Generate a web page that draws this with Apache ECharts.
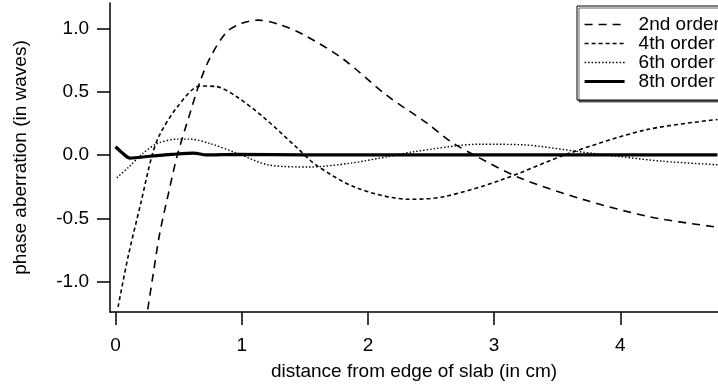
<!DOCTYPE html>
<html>
<head>
<meta charset="utf-8">
<script src="https://cdn.jsdelivr.net/npm/echarts@6/dist/echarts.min.js"></script>
<style>
html, body { margin: 0; padding: 0; background: #fff; }
#chart { width: 718px; height: 387px; }
</style>
</head>
<body>
<div id="chart"></div>
<script>
var seriesNames = ['2nd order', '4th order', '6th order', '8th order'];

// [distance (cm), aberration (waves)]
var order2 = [[0.255, -1.22], [0.3, -0.93], [0.35, -0.62], [0.42, -0.3], [0.49, 0.0], [0.59, 0.33],
    [0.67, 0.58], [0.75, 0.77], [0.88, 0.97], [1.0, 1.04], [1.13, 1.065], [1.3, 1.03], [1.49, 0.95],
    [1.8, 0.76], [2.15, 0.47], [2.47, 0.25], [2.65, 0.11], [2.84, 0.0], [3.2, -0.18], [3.7, -0.35],
    [4.24, -0.49], [4.77, -0.57]];
var order4 = [[0.02, -1.2], [0.1, -0.8], [0.2, -0.38], [0.29, 0.0], [0.35, 0.16], [0.49, 0.38],
    [0.67, 0.545], [0.8, 0.54], [0.96, 0.46], [1.17, 0.3], [1.44, 0.055], [1.59, -0.08], [1.91, -0.26],
    [2.33, -0.35], [2.6, -0.33], [3.05, -0.2], [3.6, 0.015], [4.21, 0.2], [4.77, 0.28]];
var order6 = [[0.01, -0.18], [0.1, -0.1], [0.22, 0.015], [0.33, 0.09], [0.49, 0.125], [0.59, 0.125],
    [0.75, 0.09], [0.96, 0.015], [1.22, -0.08], [1.54, -0.095], [1.86, -0.065], [2.15, -0.015],
    [2.36, 0.025], [2.89, 0.085], [3.23, 0.08], [3.68, 0.025], [4.0, -0.013], [4.34, -0.05], [4.77, -0.077]];
var order8 = [[0.0, 0.065], [0.05, 0.02], [0.115, -0.025], [0.27, -0.01], [0.45, 0.005], [0.62, 0.015],
    [0.72, 0.0], [0.96, 0.005], [1.5, 0.0], [2.5, 0.0], [4.77, 0.0]];

var xTicks = [0, 1, 2, 3, 4];
var yTicks = [-1, -0.5, 0, 0.5, 1];

var font = 'Liberation Sans';
var chart = echarts.init(document.getElementById('chart'));

function curve(name, data, width, dash) {
    return {
        name: name,
        type: 'line',
        data: data,
        symbol: 'none',
        smooth: 0.3,
        itemStyle: { color: '#000' },
        lineStyle: { color: '#000', width: width, type: dash }
    };
}

var option = {
    animation: false,
    grid: { left: 110, right: 0, top: 3, bottom: 75 },
    legend: {
        orient: 'vertical',
        left: 577,
        top: 6,
        padding: [9, 30, 9, 6],
        itemGap: 0,
        itemWidth: 40,
        itemHeight: 12,
        itemStyle: { opacity: 0 },
        lineStyle: { width: 'inherit' },
        backgroundColor: '#fff',
        borderColor: '#000',
        borderWidth: 1,
        borderRadius: 0,
        shadowColor: 'rgba(0,0,0,0.6)',
        shadowOffsetX: 2,
        shadowOffsetY: 2,
        shadowBlur: 0,
        textStyle: { fontFamily: font, fontSize: 19, color: '#000', lineHeight: 19, padding: [0, 0, 0, 9] },
        data: seriesNames
    },
    xAxis: {
        type: 'value',
        min: -0.044,
        max: 4.774,
        name: 'distance from edge of slab (in cm)',
        nameLocation: 'middle',
        nameGap: 50,
        nameTextStyle: { fontFamily: font, fontSize: 19, color: '#000' },
        axisLine: { onZero: false, lineStyle: { color: '#000', width: 1.5 } },
        axisTick: { customValues: xTicks, length: 13, lineStyle: { color: '#000', width: 1.5 } },
        axisLabel: { customValues: xTicks, margin: 24, fontFamily: font, fontSize: 19, color: '#000' },
        splitLine: { show: false }
    },
    yAxis: {
        type: 'value',
        min: -1.24,
        max: 1.2,
        name: 'phase aberration (in waves)',
        nameLocation: 'middle',
        nameGap: 80,
        nameTextStyle: { fontFamily: font, fontSize: 19, color: '#000' },
        axisLine: { show: true, onZero: false, lineStyle: { color: '#000', width: 1.5 } },
        axisTick: { show: true, customValues: yTicks, length: 13, lineStyle: { color: '#000', width: 1.5 } },
        axisLabel: {
            customValues: yTicks, margin: 21, fontFamily: font, fontSize: 19, color: '#000',
            formatter: function (v) { return v.toFixed(1); }
        },
        splitLine: { show: false }
    },
    series: [
        curve(seriesNames[0], order2, 1.6, [8, 6]),
        curve(seriesNames[1], order4, 1.6, [4, 3]),
        curve(seriesNames[2], order6, 1.4, [1.5, 2]),
        curve(seriesNames[3], order8, 3.2, 'solid')
    ]
};

chart.setOption(option);
</script>
</body>
</html>
